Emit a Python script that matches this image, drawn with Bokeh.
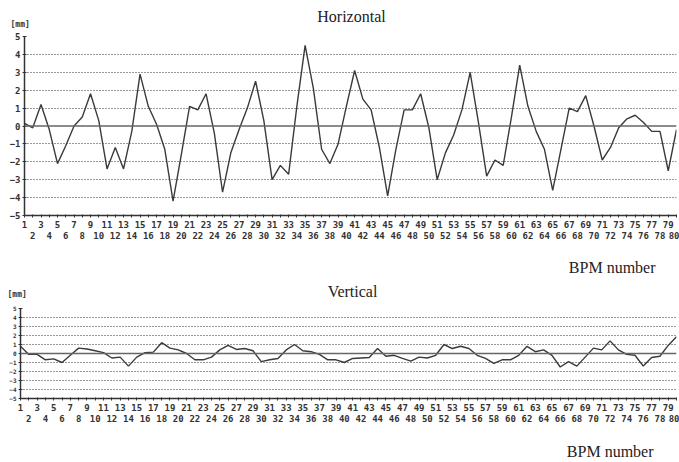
from bokeh.plotting import figure
from bokeh.models import Range1d, FixedTicker, LinearAxis, Span, Label
from bokeh.layouts import column, row
from bokeh.embed import file_html
from bokeh.resources import INLINE

bpm = list(range(1, 81))
horizontal = [0.15, -0.1, 1.2, -0.2, -2.1, -1.1, 0.0, 0.5, 1.8, 0.3,
              -2.4, -1.2, -2.4, -0.3, 2.9, 1.1, 0.1, -1.3, -4.2, -1.6,
              1.1, 0.9, 1.8, -0.4, -3.7, -1.5, -0.2, 1.0, 2.5, 0.3,
              -3.0, -2.2, -2.7, 1.1, 4.5, 2.1, -1.3, -2.1, -1.0, 1.1,
              3.1, 1.5, 0.9, -1.2, -3.9, -1.3, 0.9, 0.9, 1.8, -0.1,
              -3.0, -1.5, -0.5, 0.9, 3.0, 0.2, -2.8, -1.9, -2.2, 0.5,
              3.4, 1.1, -0.3, -1.3, -3.6, -1.3, 1.0, 0.8, 1.7, 0.0,
              -1.9, -1.2, -0.1, 0.4, 0.6, 0.2, -0.3, -0.3, -2.5, -0.2]
vertical = [0.8, -0.1, -0.1, -0.7, -0.6, -1.0, -0.2, 0.6, 0.5, 0.3,
            0.1, -0.5, -0.4, -1.4, -0.4, 0.1, 0.15, 1.2, 0.6, 0.4,
            0.0, -0.7, -0.7, -0.4, 0.4, 0.9, 0.45, 0.55, 0.3, -0.9,
            -0.7, -0.55, 0.4, 1.0, 0.3, 0.2, -0.1, -0.7, -0.7, -1.0,
            -0.55, -0.5, -0.45, 0.55, -0.3, -0.2, -0.55, -0.85, -0.4, -0.5,
            -0.2, 1.0, 0.55, 0.8, 0.55, -0.2, -0.55, -1.1, -0.7, -0.7,
            -0.2, 0.8, 0.2, 0.4, -0.2, -1.5, -0.9, -1.4, -0.4, 0.6,
            0.4, 1.4, 0.4, -0.1, -0.2, -1.4, -0.45, -0.3, 0.9, 1.85]
y_ticks = list(range(-5, 6))
odd_ticks = [b for b in bpm if b % 2 == 1]
even_ticks = [b for b in bpm if b % 2 == 0]
titles = ["Horizontal", "Vertical"]
unit_label = "[mm]"
x_label = "BPM number"

MONO = "DejaVu Sans Mono"
SERIF = "Liberation Serif"
INK = "#333333"
W = 679


def chart(values, height, top, frame_h, left, grid_levels, ylab_size):
    right = 3
    bottom = height - top - frame_h
    p = figure(width=W, height=height, output_backend="svg",
               toolbar_location=None, min_border_left=left,
               min_border_right=right, min_border_top=top,
               min_border_bottom=bottom,
               x_range=Range1d(1, 80), y_range=Range1d(-5, 5))
    p.outline_line_color = None
    p.xgrid.visible = False
    p.ygrid.ticker = FixedTicker(ticks=grid_levels)
    p.ygrid.grid_line_color = "#333333"
    p.ygrid.grid_line_dash = "1 2"
    p.ygrid.grid_line_width = 1

    ax = p.xaxis[0]
    ax.ticker = FixedTicker(ticks=bpm)
    ax.major_label_overrides = {float(b): "" for b in even_ticks}
    ax.axis_line_color = INK
    ax.axis_line_width = 1.5
    ax.major_tick_line_color = INK
    ax.major_tick_out = 2
    ax.major_tick_in = 1
    ax.minor_tick_line_color = None
    ax.major_label_standoff = 3
    ax.major_label_text_font = MONO
    ax.major_label_text_font_style = "bold"
    ax.major_label_text_font_size = "9px"
    ax.major_label_text_color = INK

    ax2 = LinearAxis(ticker=FixedTicker(ticks=even_ticks))
    ax2.axis_line_color = None
    ax2.major_tick_line_color = None
    ax2.minor_tick_line_color = None
    ax2.major_tick_out = 0
    ax2.major_tick_in = 0
    ax2.major_label_standoff = 1
    ax2.major_label_text_font = MONO
    ax2.major_label_text_font_style = "bold"
    ax2.major_label_text_font_size = "9px"
    ax2.major_label_text_color = INK
    p.add_layout(ax2, "below")

    ya = p.yaxis[0]
    ya.ticker = FixedTicker(ticks=y_ticks)
    ya.axis_line_color = INK
    ya.axis_line_width = 1.5
    ya.major_tick_line_color = INK
    ya.major_tick_out = 2
    ya.major_tick_in = 2
    ya.minor_tick_line_color = None
    ya.major_label_standoff = 2
    ya.major_label_text_font = MONO
    ya.major_label_text_font_style = "bold"
    ya.major_label_text_font_size = ylab_size
    ya.major_label_text_color = INK

    p.add_layout(Span(location=0, dimension="width", line_color="#666666",
                      line_width=1.6))
    p.line(bpm, values, line_color="#3a3a3a", line_width=1.4)
    return p


def band(height, items):
    """A text-only strip; items: (text, x, y, align, kind)."""
    f = figure(width=W, height=height, output_backend="svg",
               toolbar_location=None, min_border=0, min_border_left=0,
               min_border_right=0, min_border_top=0, min_border_bottom=0,
               x_axis_location=None, y_axis_location=None,
               x_range=Range1d(0, W), y_range=Range1d(height, 0))
    f.outline_line_color = None
    f.grid.visible = False
    for text, x, y, align, kind in items:
        if kind == "serif":
            f.add_layout(Label(x=x, y=y, text=text, text_font=SERIF,
                               text_font_size="16px", text_align=align,
                               text_baseline="middle", text_color="#222222"))
        else:
            f.add_layout(Label(x=x, y=y, text=text, text_font=MONO,
                               text_font_style="bold", text_font_size="8px",
                               text_align=align, text_baseline="middle",
                               text_color=INK))
    return f


head1 = band(30, [(titles[0], 351, 16, "center", "serif"),
                  (unit_label, 10, 23.5, "left", "mono")])
p1 = chart(horizontal, 228, 6, 179, 24,
           [-4, -3, -2, -1, 1, 2, 3, 4, 5], "9px")
mid = band(44, [(x_label, 655, 9, "right", "serif"),
                (titles[1], 352, 33, "center", "serif"),
                (unit_label, 7, 36, "left", "mono")])
p2 = chart(vertical, 128, 6, 90, 20,
           [-4, -3, -2, -1, 1, 2, 3, 4], "6px")
foot = band(32, [(x_label, 653, 21, "right", "serif")])

# wrap each part in its own row so that the column does not align frames
layout = column([row(head1), row(p1), row(mid), row(p2), row(foot)],
                spacing=0)
open("out.html", "w").write(file_html(layout, INLINE))
